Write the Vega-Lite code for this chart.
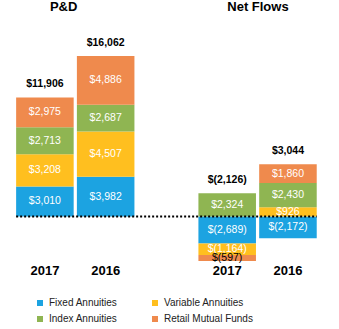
{
  "$schema": "https://vega.github.io/schema/vega-lite/v6.json",
  "width": 339,
  "height": 262,
  "padding": {"top": 0, "left": 0, "right": 0, "bottom": 67},
  "autosize": {"type": "none"},
  "background": "white",
  "config": {"view": {"stroke": null}, "font": "Liberation Sans"},
  "datasets": {
    "seg": [
      {"slot": "P&D|2017", "series": "Fixed Annuities", "value": 3010, "label": "$3,010"},
      {"slot": "P&D|2017", "series": "Variable Annuities", "value": 3208, "label": "$3,208"},
      {"slot": "P&D|2017", "series": "Index Annuities", "value": 2713, "label": "$2,713"},
      {"slot": "P&D|2017", "series": "Retail Mutual Funds", "value": 2975, "label": "$2,975"},
      {"slot": "P&D|2016", "series": "Fixed Annuities", "value": 3982, "label": "$3,982"},
      {"slot": "P&D|2016", "series": "Variable Annuities", "value": 4507, "label": "$4,507"},
      {"slot": "P&D|2016", "series": "Index Annuities", "value": 2687, "label": "$2,687"},
      {"slot": "P&D|2016", "series": "Retail Mutual Funds", "value": 4886, "label": "$4,886"},
      {"slot": "NF|2017", "series": "Fixed Annuities", "value": -2689, "label": "$(2,689)"},
      {"slot": "NF|2017", "series": "Variable Annuities", "value": -1164, "label": "$(1,164)"},
      {"slot": "NF|2017", "series": "Index Annuities", "value": 2324, "label": "$2,324"},
      {"slot": "NF|2017", "series": "Retail Mutual Funds", "value": -597, "label": "$(597)"},
      {"slot": "NF|2016", "series": "Fixed Annuities", "value": -2172, "label": "$(2,172)"},
      {"slot": "NF|2016", "series": "Variable Annuities", "value": 926, "label": "$926"},
      {"slot": "NF|2016", "series": "Index Annuities", "value": 2430, "label": "$2,430"},
      {"slot": "NF|2016", "series": "Retail Mutual Funds", "value": 1860, "label": "$1,860"}
    ],
    "tot": [
      {"slot": "P&D|2017", "total": "$11,906"},
      {"slot": "P&D|2016", "total": "$16,062"},
      {"slot": "NF|2017", "total": "$(2,126)"},
      {"slot": "NF|2016", "total": "$3,044"}
    ]
  },
  "layer": [
    {
      "data": {"name": "seg"},
      "transform": [
        {"calculate": "indexof(['Fixed Annuities','Variable Annuities','Index Annuities','Retail Mutual Funds'], datum.series)", "as": "ord"},
        {"stack": "value", "groupby": ["slot"], "sort": [{"field": "ord", "order": "ascending"}], "as": ["y0", "y1"]}
      ],
      "mark": {"type": "bar"},
      "encoding": {
        "x": {
          "field": "slot", "type": "nominal",
          "scale": {"type": "band", "domain": ["P&D|2017", "P&D|2016", "gap", "NF|2017", "NF|2016"], "paddingInner": 0.053, "paddingOuter": 0.316, "align": 0.42},
          "axis": {"title": null, "domain": false, "ticks": false, "labelPadding": 2, "labelFontSize": 13, "labelFontWeight": "bold", "labelColor": "black", "labelAngle": 0,
                   "labelExpr": "indexof(datum.value,'|') > 0 ? split(datum.value,'|')[1] : ''"}
        },
        "y": {"field": "y0", "type": "quantitative", "scale": {"domain": [-4550, 21650], "nice": false, "zero": false}, "axis": null},
        "y2": {"field": "y1"},
        "color": {
          "field": "series", "type": "nominal",
          "scale": {"domain": ["Fixed Annuities", "Variable Annuities", "Index Annuities", "Retail Mutual Funds"], "range": ["#1ca3e1", "#ffbf1f", "#8fb552", "#ef8a4d"]},
          "legend": {"orient": "none", "legendX": 35, "legendY": 298, "direction": "horizontal", "columns": 2, "symbolType": "square", "symbolSize": 36, "labelFontSize": 10, "labelColor": "#222", "columnPadding": 32, "rowPadding": 6, "padding": 0, "title": null, "labelFont": "Liberation Sans"}
        }
      }
    },
    {
      "data": {"values": [{"base": 0, "from": "P&D|2017", "to": "NF|2016"}]},
      "mark": {"type": "rule", "strokeDash": [2, 2], "strokeWidth": 2, "color": "black"},
      "encoding": {
        "x": {"field": "from", "type": "nominal", "bandPosition": 0},
        "x2": {"field": "to", "bandPosition": 1},
        "y": {"field": "base", "type": "quantitative"}
      }
    },
    {
      "data": {"name": "seg"},
      "transform": [
        {"calculate": "indexof(['Fixed Annuities','Variable Annuities','Index Annuities','Retail Mutual Funds'], datum.series)", "as": "ord"},
        {"stack": "value", "groupby": ["slot"], "sort": [{"field": "ord", "order": "ascending"}], "as": ["y0", "y1"]},
        {"calculate": "(datum.y0 + datum.y1) / 2", "as": "mid"}
      ],
      "mark": {"type": "text", "fontSize": 10.5, "baseline": "middle", "align": "center"},
      "encoding": {
        "x": {"field": "slot", "type": "nominal"},
        "y": {"field": "mid", "type": "quantitative"},
        "text": {"field": "label"},
        "color": {"condition": {"test": "datum.series === 'Retail Mutual Funds' && datum.value < 0", "value": "black"}, "value": "white"}
      }
    },
    {
      "data": {"name": "seg"},
      "transform": [
        {"filter": "datum.value > 0"},
        {"aggregate": [{"op": "sum", "field": "value", "as": "top"}], "groupby": ["slot"]},
        {"lookup": "slot", "from": {"data": {"name": "tot"}, "key": "slot", "fields": ["total"]}}
      ],
      "mark": {"type": "text", "fontSize": 10.5, "fontWeight": "bold", "baseline": "middle", "dy": -13, "color": "black"},
      "encoding": {
        "x": {"field": "slot", "type": "nominal"},
        "y": {"field": "top", "type": "quantitative"},
        "text": {"field": "total"}
      }
    },
    {
      "data": {"values": [{"slot": "P&D|2017", "head": "P&D"}]},
      "mark": {"type": "text", "fontSize": 13, "fontWeight": "bold", "baseline": "middle", "dx": -10, "color": "black"},
      "encoding": {
        "x": {"field": "slot", "type": "nominal", "bandPosition": 1},
        "y": {"datum": 20950},
        "text": {"field": "head"}
      }
    },
    {
      "data": {"values": [{"slot": "NF|2017", "head": "Net Flows"}]},
      "mark": {"type": "text", "fontSize": 13, "fontWeight": "bold", "baseline": "middle", "dx": 2, "color": "black"},
      "encoding": {
        "x": {"field": "slot", "type": "nominal", "bandPosition": 1},
        "y": {"datum": 20950},
        "text": {"field": "head"}
      }
    }
  ]
}
